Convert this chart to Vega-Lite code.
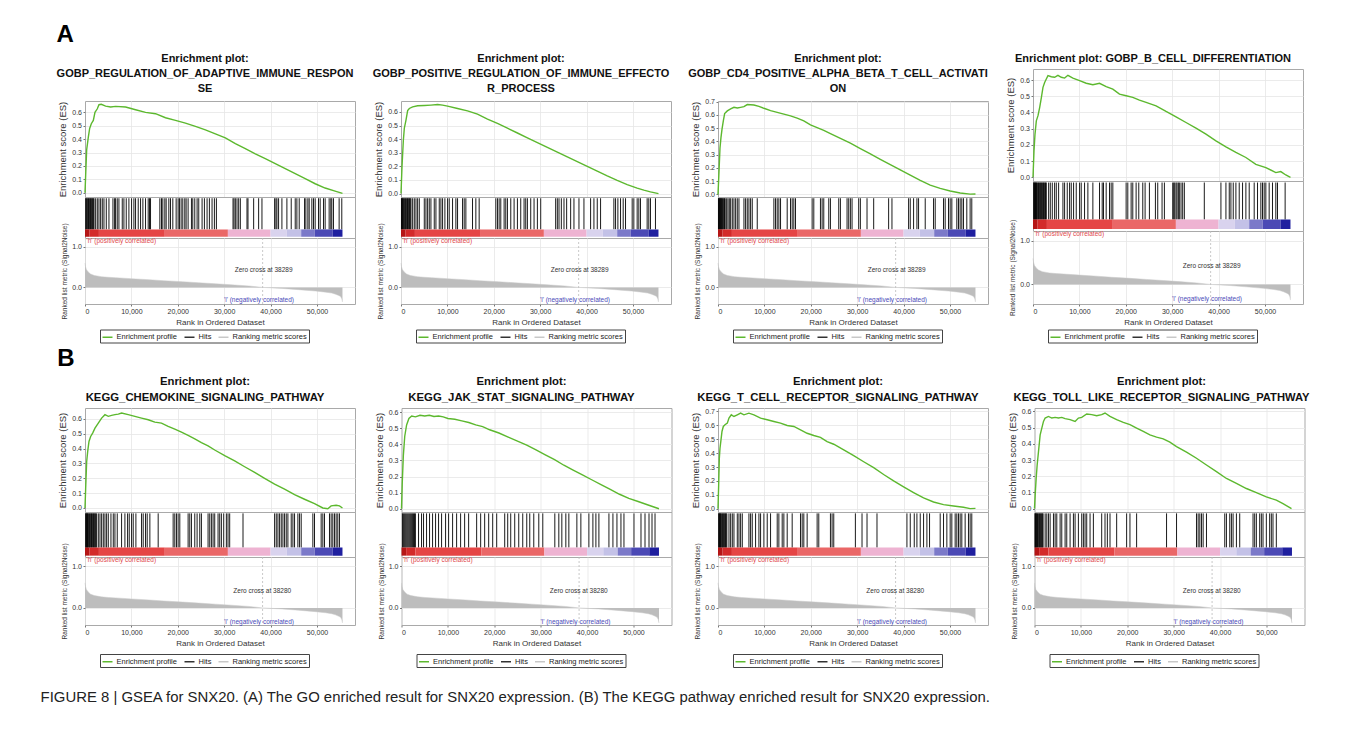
{
"$schema": "https://vega.github.io/schema/vega-lite/v6.json",
"background": "#ffffff",
"padding": {"left": 40, "top": 23, "right": 10, "bottom": 10},
"title": {"text": "FIGURE 8 | GSEA for SNX20. (A) The GO enriched result for SNX20 expression. (B) The KEGG pathway enriched result for SNX20 expression.", "orient": "bottom", "anchor": "start", "fontSize": 14.9, "fontWeight": "normal", "font": "Liberation Sans", "color": "#222222", "offset": 22, "dx": -16},
"config": {
  "font": "Liberation Sans",
  "view": {"stroke": "#a9a9a9", "strokeWidth": 1},
  "axis": {"labelFont": "Liberation Sans", "labelFontSize": 7, "labelColor": "#333333", "titleFont": "Liberation Sans", "titleFontWeight": "normal", "titleColor": "#333333", "domain": false, "ticks": true, "tickSize": 2, "tickColor": "#777777", "labelPadding": 1.5, "titlePadding": 4, "gridColor": "#e6e6e6", "gridWidth": 0.8},
  "legend": {"labelFont": "Liberation Sans"},
  "title": {"font": "Liberation Sans"}
},
"datasets": {
"cbar": [{"b":1,"s":0,"e":1000},{"b":2,"s":1000,"e":3000},{"b":3,"s":3000,"e":17200},{"b":4,"s":17200,"e":30800},{"b":5,"s":30800,"e":40000},{"b":6,"s":40000,"e":43500},{"b":7,"s":43500,"e":46600},{"b":8,"s":46600,"e":49500},{"b":9,"s":49500,"e":53400},{"b":10,"s":53400,"e":55500}],
"metric": [{"r":0,"m":0.6},{"r":100,"m":0.52},{"r":300,"m":0.44},{"r":700,"m":0.38},{"r":1200,"m":0.33},{"r":2000,"m":0.295},{"r":3500,"m":0.265},{"r":5000,"m":0.25},{"r":6600,"m":0.24},{"r":10000,"m":0.215},{"r":13800,"m":0.19},{"r":17000,"m":0.165},{"r":21000,"m":0.14},{"r":24500,"m":0.115},{"r":28100,"m":0.09},{"r":31500,"m":0.065},{"r":35300,"m":0.035},{"r":38289,"m":0},{"r":42500,"m":-0.025},{"r":46000,"m":-0.055},{"r":49700,"m":-0.09},{"r":51900,"m":-0.117},{"r":53200,"m":-0.14},{"r":54000,"m":-0.167},{"r":54700,"m":-0.2},{"r":55100,"m":-0.225},{"r":55350,"m":-0.28},{"r":55500,"m":-0.36}],
"es": [
{"p":1,"r":0,"v":0},{"p":1,"r":143,"v":0.13},{"p":1,"r":359,"v":0.32},{"p":1,"r":717,"v":0.415},{"p":1,"r":1004,"v":0.48},{"p":1,"r":1362,"v":0.515},{"p":1,"r":1793,"v":0.54},{"p":1,"r":2151,"v":0.6},{"p":1,"r":2653,"v":0.627},{"p":1,"r":3011,"v":0.657},{"p":1,"r":3513,"v":0.66},{"p":1,"r":4445,"v":0.647},{"p":1,"r":5521,"v":0.64},{"p":1,"r":6596,"v":0.645},{"p":1,"r":8747,"v":0.64},{"p":1,"r":10898,"v":0.62},{"p":1,"r":13049,"v":0.6},{"p":1,"r":15200,"v":0.59},{"p":1,"r":17351,"v":0.56},{"p":1,"r":19502,"v":0.54},{"p":1,"r":21653,"v":0.52},{"p":1,"r":23804,"v":0.495},{"p":1,"r":25955,"v":0.47},{"p":1,"r":28106,"v":0.44},{"p":1,"r":30257,"v":0.41},{"p":1,"r":32408,"v":0.366},{"p":1,"r":34559,"v":0.33},{"p":1,"r":36710,"v":0.29},{"p":1,"r":38861,"v":0.254},{"p":1,"r":41012,"v":0.217},{"p":1,"r":43163,"v":0.18},{"p":1,"r":45314,"v":0.142},{"p":1,"r":47465,"v":0.105},{"p":1,"r":49616,"v":0.067},{"p":1,"r":51767,"v":0.035},{"p":1,"r":53918,"v":0.012},{"p":1,"r":55500,"v":-0.005},
{"p":2,"r":0,"v":0},{"p":2,"r":215,"v":0.196},{"p":2,"r":502,"v":0.39},{"p":2,"r":717,"v":0.48},{"p":2,"r":1076,"v":0.54},{"p":2,"r":1434,"v":0.61},{"p":2,"r":1793,"v":0.625},{"p":2,"r":2510,"v":0.637},{"p":2,"r":3585,"v":0.645},{"p":2,"r":5019,"v":0.647},{"p":2,"r":6453,"v":0.65},{"p":2,"r":7887,"v":0.654},{"p":2,"r":8963,"v":0.65},{"p":2,"r":10038,"v":0.642},{"p":2,"r":12189,"v":0.625},{"p":2,"r":14340,"v":0.608},{"p":2,"r":16491,"v":0.583},{"p":2,"r":18642,"v":0.547},{"p":2,"r":20793,"v":0.515},{"p":2,"r":22944,"v":0.48},{"p":2,"r":25095,"v":0.445},{"p":2,"r":27246,"v":0.41},{"p":2,"r":29397,"v":0.375},{"p":2,"r":31548,"v":0.34},{"p":2,"r":33699,"v":0.305},{"p":2,"r":35850,"v":0.27},{"p":2,"r":38001,"v":0.235},{"p":2,"r":40152,"v":0.2},{"p":2,"r":42303,"v":0.165},{"p":2,"r":44454,"v":0.13},{"p":2,"r":46605,"v":0.097},{"p":2,"r":48756,"v":0.066},{"p":2,"r":50907,"v":0.04},{"p":2,"r":52341,"v":0.025},{"p":2,"r":53775,"v":0.013},{"p":2,"r":55500,"v":0},
{"p":3,"r":0,"v":0},{"p":3,"r":215,"v":0.17},{"p":3,"r":430,"v":0.35},{"p":3,"r":645,"v":0.43},{"p":3,"r":860,"v":0.49},{"p":3,"r":1147,"v":0.555},{"p":3,"r":1434,"v":0.61},{"p":3,"r":2008,"v":0.63},{"p":3,"r":2725,"v":0.645},{"p":3,"r":3442,"v":0.657},{"p":3,"r":4159,"v":0.652},{"p":3,"r":4876,"v":0.657},{"p":3,"r":5593,"v":0.662},{"p":3,"r":6310,"v":0.678},{"p":3,"r":7744,"v":0.675},{"p":3,"r":8819,"v":0.665},{"p":3,"r":9895,"v":0.65},{"p":3,"r":11329,"v":0.632},{"p":3,"r":12763,"v":0.619},{"p":3,"r":14197,"v":0.606},{"p":3,"r":15631,"v":0.593},{"p":3,"r":17065,"v":0.575},{"p":3,"r":18499,"v":0.555},{"p":3,"r":19933,"v":0.524},{"p":3,"r":21367,"v":0.504},{"p":3,"r":22801,"v":0.483},{"p":3,"r":24235,"v":0.458},{"p":3,"r":26386,"v":0.422},{"p":3,"r":28537,"v":0.386},{"p":3,"r":30688,"v":0.345},{"p":3,"r":32839,"v":0.305},{"p":3,"r":34990,"v":0.265},{"p":3,"r":37141,"v":0.225},{"p":3,"r":39292,"v":0.185},{"p":3,"r":41443,"v":0.145},{"p":3,"r":43594,"v":0.105},{"p":3,"r":45745,"v":0.07},{"p":3,"r":47896,"v":0.045},{"p":3,"r":50047,"v":0.025},{"p":3,"r":52198,"v":0.01},{"p":3,"r":54349,"v":0.002},{"p":3,"r":55500,"v":0.003},
{"p":4,"r":0,"v":0},{"p":4,"r":215,"v":0.163},{"p":4,"r":430,"v":0.266},{"p":4,"r":717,"v":0.348},{"p":4,"r":1076,"v":0.38},{"p":4,"r":1434,"v":0.43},{"p":4,"r":1793,"v":0.49},{"p":4,"r":2151,"v":0.555},{"p":4,"r":2510,"v":0.585},{"p":4,"r":2868,"v":0.606},{"p":4,"r":3227,"v":0.627},{"p":4,"r":3944,"v":0.62},{"p":4,"r":4661,"v":0.617},{"p":4,"r":5378,"v":0.629},{"p":4,"r":6095,"v":0.617},{"p":4,"r":6812,"v":0.612},{"p":4,"r":7529,"v":0.629},{"p":4,"r":8604,"v":0.612},{"p":4,"r":10038,"v":0.596},{"p":4,"r":11472,"v":0.58},{"p":4,"r":12906,"v":0.571},{"p":4,"r":14340,"v":0.58},{"p":4,"r":15774,"v":0.559},{"p":4,"r":17208,"v":0.544},{"p":4,"r":18642,"v":0.513},{"p":4,"r":20076,"v":0.503},{"p":4,"r":21510,"v":0.493},{"p":4,"r":22944,"v":0.476},{"p":4,"r":24378,"v":0.462},{"p":4,"r":26529,"v":0.441},{"p":4,"r":28680,"v":0.406},{"p":4,"r":30831,"v":0.373},{"p":4,"r":32982,"v":0.338},{"p":4,"r":35133,"v":0.303},{"p":4,"r":37284,"v":0.266},{"p":4,"r":39435,"v":0.225},{"p":4,"r":41586,"v":0.188},{"p":4,"r":43737,"v":0.153},{"p":4,"r":45888,"v":0.122},{"p":4,"r":48039,"v":0.08},{"p":4,"r":50190,"v":0.06},{"p":4,"r":52341,"v":0.029},{"p":4,"r":53416,"v":0.035},{"p":4,"r":54492,"v":0.014},{"p":4,"r":55500,"v":0},
{"p":5,"r":0,"v":0},{"p":5,"r":143,"v":0.131},{"p":5,"r":359,"v":0.312},{"p":5,"r":574,"v":0.38},{"p":5,"r":860,"v":0.448},{"p":5,"r":1219,"v":0.482},{"p":5,"r":1649,"v":0.505},{"p":5,"r":2151,"v":0.538},{"p":5,"r":2868,"v":0.572},{"p":5,"r":3585,"v":0.606},{"p":5,"r":4302,"v":0.629},{"p":5,"r":5019,"v":0.618},{"p":5,"r":5736,"v":0.624},{"p":5,"r":6453,"v":0.629},{"p":5,"r":7170,"v":0.633},{"p":5,"r":7887,"v":0.64},{"p":5,"r":9321,"v":0.629},{"p":5,"r":10755,"v":0.618},{"p":5,"r":12189,"v":0.606},{"p":5,"r":13623,"v":0.595},{"p":5,"r":15057,"v":0.579},{"p":5,"r":16491,"v":0.572},{"p":5,"r":17925,"v":0.55},{"p":5,"r":19359,"v":0.532},{"p":5,"r":20793,"v":0.511},{"p":5,"r":22227,"v":0.489},{"p":5,"r":23661,"v":0.466},{"p":5,"r":25095,"v":0.441},{"p":5,"r":26529,"v":0.419},{"p":5,"r":27963,"v":0.391},{"p":5,"r":30114,"v":0.353},{"p":5,"r":32265,"v":0.317},{"p":5,"r":34416,"v":0.278},{"p":5,"r":36567,"v":0.24},{"p":5,"r":38718,"v":0.2},{"p":5,"r":40869,"v":0.161},{"p":5,"r":43020,"v":0.127},{"p":5,"r":45171,"v":0.09},{"p":5,"r":47322,"v":0.059},{"p":5,"r":49473,"v":0.029},{"p":5,"r":51266,"v":0},{"p":5,"r":52341,"v":-0.005},{"p":5,"r":53058,"v":0.014},{"p":5,"r":54134,"v":0.018},{"p":5,"r":54851,"v":0.014},{"p":5,"r":55500,"v":0},
{"p":6,"r":0,"v":0},{"p":6,"r":150,"v":0.15},{"p":6,"r":400,"v":0.33},{"p":6,"r":700,"v":0.45},{"p":6,"r":1100,"v":0.52},{"p":6,"r":1600,"v":0.56},{"p":6,"r":2200,"v":0.575},{"p":6,"r":3000,"v":0.57},{"p":6,"r":4000,"v":0.58},{"p":6,"r":5000,"v":0.575},{"p":6,"r":6000,"v":0.58},{"p":6,"r":7000,"v":0.572},{"p":6,"r":8000,"v":0.575},{"p":6,"r":9000,"v":0.57},{"p":6,"r":10000,"v":0.56},{"p":6,"r":11500,"v":0.555},{"p":6,"r":13000,"v":0.545},{"p":6,"r":14500,"v":0.535},{"p":6,"r":16000,"v":0.52},{"p":6,"r":17500,"v":0.51},{"p":6,"r":19000,"v":0.49},{"p":6,"r":21000,"v":0.47},{"p":6,"r":23000,"v":0.445},{"p":6,"r":25000,"v":0.42},{"p":6,"r":27000,"v":0.395},{"p":6,"r":29000,"v":0.365},{"p":6,"r":31000,"v":0.335},{"p":6,"r":33000,"v":0.305},{"p":6,"r":35000,"v":0.27},{"p":6,"r":37000,"v":0.24},{"p":6,"r":39000,"v":0.21},{"p":6,"r":41000,"v":0.18},{"p":6,"r":43000,"v":0.15},{"p":6,"r":45000,"v":0.12},{"p":6,"r":47000,"v":0.09},{"p":6,"r":49000,"v":0.065},{"p":6,"r":51000,"v":0.045},{"p":6,"r":53000,"v":0.025},{"p":6,"r":55500,"v":0},
{"p":7,"r":0,"v":0},{"p":7,"r":143,"v":0.169},{"p":7,"r":287,"v":0.362},{"p":7,"r":430,"v":0.435},{"p":7,"r":645,"v":0.495},{"p":7,"r":860,"v":0.556},{"p":7,"r":1147,"v":0.592},{"p":7,"r":1506,"v":0.604},{"p":7,"r":2008,"v":0.616},{"p":7,"r":2366,"v":0.652},{"p":7,"r":2868,"v":0.676},{"p":7,"r":3442,"v":0.664},{"p":7,"r":4159,"v":0.676},{"p":7,"r":4876,"v":0.688},{"p":7,"r":5593,"v":0.676},{"p":7,"r":6668,"v":0.688},{"p":7,"r":7744,"v":0.676},{"p":7,"r":9178,"v":0.652},{"p":7,"r":10612,"v":0.64},{"p":7,"r":12046,"v":0.628},{"p":7,"r":13480,"v":0.616},{"p":7,"r":14914,"v":0.599},{"p":7,"r":16348,"v":0.592},{"p":7,"r":17782,"v":0.568},{"p":7,"r":19216,"v":0.543},{"p":7,"r":20650,"v":0.527},{"p":7,"r":22084,"v":0.514},{"p":7,"r":23518,"v":0.483},{"p":7,"r":24952,"v":0.464},{"p":7,"r":27103,"v":0.423},{"p":7,"r":29254,"v":0.382},{"p":7,"r":31405,"v":0.338},{"p":7,"r":33556,"v":0.295},{"p":7,"r":35707,"v":0.246},{"p":7,"r":37858,"v":0.2},{"p":7,"r":40009,"v":0.157},{"p":7,"r":42160,"v":0.116},{"p":7,"r":44311,"v":0.077},{"p":7,"r":46462,"v":0.048},{"p":7,"r":48613,"v":0.029},{"p":7,"r":50764,"v":0.019},{"p":7,"r":52915,"v":0.01},{"p":7,"r":54349,"v":0},{"p":7,"r":55500,"v":0.002},
{"p":8,"r":0,"v":0},{"p":8,"r":143,"v":0.083},{"p":8,"r":359,"v":0.186},{"p":8,"r":574,"v":0.269},{"p":8,"r":860,"v":0.352},{"p":8,"r":1219,"v":0.455},{"p":8,"r":1577,"v":0.497},{"p":8,"r":1936,"v":0.538},{"p":8,"r":2294,"v":0.559},{"p":8,"r":3011,"v":0.569},{"p":8,"r":3728,"v":0.559},{"p":8,"r":4445,"v":0.563},{"p":8,"r":5162,"v":0.559},{"p":8,"r":5879,"v":0.563},{"p":8,"r":6596,"v":0.555},{"p":8,"r":7672,"v":0.549},{"p":8,"r":8747,"v":0.538},{"p":8,"r":9464,"v":0.559},{"p":8,"r":10181,"v":0.563},{"p":8,"r":11257,"v":0.584},{"p":8,"r":12332,"v":0.58},{"p":8,"r":13408,"v":0.573},{"p":8,"r":14483,"v":0.58},{"p":8,"r":15200,"v":0.59},{"p":8,"r":16276,"v":0.569},{"p":8,"r":17710,"v":0.549},{"p":8,"r":19144,"v":0.532},{"p":8,"r":20578,"v":0.518},{"p":8,"r":22012,"v":0.497},{"p":8,"r":23446,"v":0.476},{"p":8,"r":24880,"v":0.455},{"p":8,"r":26314,"v":0.441},{"p":8,"r":27748,"v":0.43},{"p":8,"r":29182,"v":0.41},{"p":8,"r":30616,"v":0.383},{"p":8,"r":32767,"v":0.348},{"p":8,"r":34918,"v":0.311},{"p":8,"r":37069,"v":0.269},{"p":8,"r":39220,"v":0.228},{"p":8,"r":41371,"v":0.186},{"p":8,"r":43522,"v":0.155},{"p":8,"r":45673,"v":0.124},{"p":8,"r":47824,"v":0.099},{"p":8,"r":49975,"v":0.072},{"p":8,"r":52126,"v":0.052},{"p":8,"r":53560,"v":0.031},{"p":8,"r":55400,"v":0}
],
"hits": [
{"p":1,"r":150},{"p":1,"r":300},{"p":1,"r":450},{"p":1,"r":600},{"p":1,"r":750},{"p":1,"r":900},{"p":1,"r":1050},{"p":1,"r":1200},{"p":1,"r":1350},{"p":1,"r":1500},{"p":1,"r":1650},{"p":1,"r":1800},{"p":1,"r":1950},{"p":1,"r":2294},{"p":1,"r":2653},{"p":1,"r":3011},{"p":1,"r":3370},{"p":1,"r":3728},{"p":1,"r":4087},{"p":1,"r":4589},{"p":1,"r":5162},{"p":1,"r":6023},{"p":1,"r":6381},{"p":1,"r":6596},{"p":1,"r":6955},{"p":1,"r":7313},{"p":1,"r":8030},{"p":1,"r":8389},{"p":1,"r":8891},{"p":1,"r":9464},{"p":1,"r":10038},{"p":1,"r":10540},{"p":1,"r":10898},{"p":1,"r":11472},{"p":1,"r":11974},{"p":1,"r":12476},{"p":1,"r":13049},{"p":1,"r":13623},{"p":1,"r":13910},{"p":1,"r":14125},{"p":1,"r":16133},{"p":1,"r":16491},{"p":1,"r":16778},{"p":1,"r":17208},{"p":1,"r":17495},{"p":1,"r":18068},{"p":1,"r":18427},{"p":1,"r":18929},{"p":1,"r":19646},{"p":1,"r":20076},{"p":1,"r":20363},{"p":1,"r":20721},{"p":1,"r":21080},{"p":1,"r":21510},{"p":1,"r":21797},{"p":1,"r":22227},{"p":1,"r":22944},{"p":1,"r":23231},{"p":1,"r":23661},{"p":1,"r":24163},{"p":1,"r":24521},{"p":1,"r":25238},{"p":1,"r":25740},{"p":1,"r":26314},{"p":1,"r":26816},{"p":1,"r":27389},{"p":1,"r":27891},{"p":1,"r":28322},{"p":1,"r":31907},{"p":1,"r":32122},{"p":1,"r":32408},{"p":1,"r":32767},{"p":1,"r":33125},{"p":1,"r":33484},{"p":1,"r":34918},{"p":1,"r":35133},{"p":1,"r":36352},{"p":1,"r":37427},{"p":1,"r":38144},{"p":1,"r":40869},{"p":1,"r":41156},{"p":1,"r":41371},{"p":1,"r":41730},{"p":1,"r":42447},{"p":1,"r":43522},{"p":1,"r":44454},{"p":1,"r":45314},{"p":1,"r":45672},{"p":1,"r":46174},{"p":1,"r":47322},{"p":1,"r":47609},{"p":1,"r":48039},{"p":1,"r":48326},{"p":1,"r":48900},{"p":1,"r":49258},{"p":1,"r":49616},{"p":1,"r":50333},{"p":1,"r":50691},{"p":1,"r":51408},{"p":1,"r":51767},{"p":1,"r":52627},{"p":1,"r":52986},{"p":1,"r":53201},{"p":1,"r":53560},{"p":1,"r":54779},{"p":1,"r":55352},
{"p":2,"r":100},{"p":2,"r":200},{"p":2,"r":300},{"p":2,"r":400},{"p":2,"r":500},{"p":2,"r":650},{"p":2,"r":800},{"p":2,"r":950},{"p":2,"r":1100},{"p":2,"r":1250},{"p":2,"r":1400},{"p":2,"r":1550},{"p":2,"r":1700},{"p":2,"r":1850},{"p":2,"r":2000},{"p":2,"r":2150},{"p":2,"r":2510},{"p":2,"r":2868},{"p":2,"r":3227},{"p":2,"r":3585},{"p":2,"r":3944},{"p":2,"r":5019},{"p":2,"r":5378},{"p":2,"r":5736},{"p":2,"r":6095},{"p":2,"r":6453},{"p":2,"r":7170},{"p":2,"r":7529},{"p":2,"r":8246},{"p":2,"r":8604},{"p":2,"r":8963},{"p":2,"r":9464},{"p":2,"r":10038},{"p":2,"r":10397},{"p":2,"r":11114},{"p":2,"r":11831},{"p":2,"r":12189},{"p":2,"r":13265},{"p":2,"r":13623},{"p":2,"r":13982},{"p":2,"r":15416},{"p":2,"r":16133},{"p":2,"r":16850},{"p":2,"r":20435},{"p":2,"r":20793},{"p":2,"r":21152},{"p":2,"r":21510},{"p":2,"r":22227},{"p":2,"r":22586},{"p":2,"r":22944},{"p":2,"r":23661},{"p":2,"r":24378},{"p":2,"r":25095},{"p":2,"r":25812},{"p":2,"r":26529},{"p":2,"r":26888},{"p":2,"r":27246},{"p":2,"r":27963},{"p":2,"r":28680},{"p":2,"r":29397},{"p":2,"r":30114},{"p":2,"r":33340},{"p":2,"r":33699},{"p":2,"r":34058},{"p":2,"r":34560},{"p":2,"r":35133},{"p":2,"r":35707},{"p":2,"r":36567},{"p":2,"r":37284},{"p":2,"r":38360},{"p":2,"r":39435},{"p":2,"r":40869},{"p":2,"r":41586},{"p":2,"r":42303},{"p":2,"r":43020},{"p":2,"r":45888},{"p":2,"r":46247},{"p":2,"r":46749},{"p":2,"r":47322},{"p":2,"r":47896},{"p":2,"r":48398},{"p":2,"r":49832},{"p":2,"r":50190},{"p":2,"r":50907},{"p":2,"r":51266},{"p":2,"r":51624},{"p":2,"r":53058},{"p":2,"r":53417},{"p":2,"r":53775},{"p":2,"r":54851},
{"p":3,"r":100},{"p":3,"r":200},{"p":3,"r":300},{"p":3,"r":400},{"p":3,"r":500},{"p":3,"r":600},{"p":3,"r":700},{"p":3,"r":800},{"p":3,"r":950},{"p":3,"r":1100},{"p":3,"r":1250},{"p":3,"r":1400},{"p":3,"r":1550},{"p":3,"r":1864},{"p":3,"r":2151},{"p":3,"r":2438},{"p":3,"r":2725},{"p":3,"r":3083},{"p":3,"r":3442},{"p":3,"r":3800},{"p":3,"r":4159},{"p":3,"r":4517},{"p":3,"r":5593},{"p":3,"r":5951},{"p":3,"r":6310},{"p":3,"r":6668},{"p":3,"r":7027},{"p":3,"r":7385},{"p":3,"r":8460},{"p":3,"r":12046},{"p":3,"r":12404},{"p":3,"r":12763},{"p":3,"r":13121},{"p":3,"r":13480},{"p":3,"r":14914},{"p":3,"r":15631},{"p":3,"r":15989},{"p":3,"r":16348},{"p":3,"r":16706},{"p":3,"r":20291},{"p":3,"r":20650},{"p":3,"r":22084},{"p":3,"r":22442},{"p":3,"r":22801},{"p":3,"r":23876},{"p":3,"r":24235},{"p":3,"r":26027},{"p":3,"r":26386},{"p":3,"r":27820},{"p":3,"r":28178},{"p":3,"r":28537},{"p":3,"r":28896},{"p":3,"r":30329},{"p":3,"r":30688},{"p":3,"r":32122},{"p":3,"r":33556},{"p":3,"r":36782},{"p":3,"r":37499},{"p":3,"r":41084},{"p":3,"r":41443},{"p":3,"r":42160},{"p":3,"r":42877},{"p":3,"r":43235},{"p":3,"r":44669},{"p":3,"r":46462},{"p":3,"r":46820},{"p":3,"r":48613},{"p":3,"r":48971},{"p":3,"r":49688},{"p":3,"r":50047},{"p":3,"r":50405},{"p":3,"r":51480},{"p":3,"r":51839},{"p":3,"r":52197},{"p":3,"r":52556},{"p":3,"r":52915},{"p":3,"r":53632},{"p":3,"r":54349},{"p":3,"r":54707},
{"p":4,"r":150},{"p":4,"r":250},{"p":4,"r":350},{"p":4,"r":450},{"p":4,"r":550},{"p":4,"r":650},{"p":4,"r":750},{"p":4,"r":900},{"p":4,"r":1050},{"p":4,"r":1200},{"p":4,"r":1350},{"p":4,"r":1500},{"p":4,"r":1650},{"p":4,"r":1800},{"p":4,"r":1950},{"p":4,"r":2100},{"p":4,"r":2250},{"p":4,"r":2400},{"p":4,"r":2550},{"p":4,"r":2700},{"p":4,"r":2868},{"p":4,"r":3370},{"p":4,"r":3728},{"p":4,"r":4159},{"p":4,"r":4661},{"p":4,"r":5019},{"p":4,"r":5521},{"p":4,"r":6453},{"p":4,"r":6812},{"p":4,"r":7385},{"p":4,"r":7887},{"p":4,"r":8246},{"p":4,"r":8747},{"p":4,"r":9321},{"p":4,"r":10038},{"p":4,"r":10397},{"p":4,"r":11114},{"p":4,"r":11831},{"p":4,"r":12906},{"p":4,"r":14340},{"p":4,"r":14914},{"p":4,"r":15200},{"p":4,"r":15774},{"p":4,"r":16491},{"p":4,"r":16850},{"p":4,"r":17208},{"p":4,"r":20076},{"p":4,"r":20435},{"p":4,"r":21152},{"p":4,"r":21510},{"p":4,"r":22227},{"p":4,"r":22801},{"p":4,"r":23661},{"p":4,"r":24163},{"p":4,"r":25095},{"p":4,"r":26386},{"p":4,"r":26888},{"p":4,"r":27820},{"p":4,"r":28322},{"p":4,"r":30114},{"p":4,"r":30329},{"p":4,"r":30545},{"p":4,"r":30831},{"p":4,"r":31046},{"p":4,"r":31333},{"p":4,"r":31548},{"p":4,"r":31907},{"p":4,"r":32265},{"p":4,"r":32624},{"p":4,"r":36926},{"p":4,"r":40510},{"p":4,"r":41586},{"p":4,"r":42303},{"p":4,"r":42662},{"p":4,"r":43164},{"p":4,"r":43737},{"p":4,"r":44454},{"p":4,"r":45171},{"p":4,"r":45888},{"p":4,"r":46605},{"p":4,"r":47680},{"p":4,"r":48397},{"p":4,"r":49114},{"p":4,"r":49473},{"p":4,"r":49832},{"p":4,"r":50190},{"p":4,"r":50907},{"p":4,"r":51624},{"p":4,"r":52341},{"p":4,"r":52700},{"p":4,"r":54349},
{"p":5,"r":150},{"p":5,"r":250},{"p":5,"r":350},{"p":5,"r":450},{"p":5,"r":550},{"p":5,"r":650},{"p":5,"r":800},{"p":5,"r":950},{"p":5,"r":1100},{"p":5,"r":1250},{"p":5,"r":1400},{"p":5,"r":1550},{"p":5,"r":1700},{"p":5,"r":1850},{"p":5,"r":2000},{"p":5,"r":2150},{"p":5,"r":2300},{"p":5,"r":2500},{"p":5,"r":2868},{"p":5,"r":3227},{"p":5,"r":3585},{"p":5,"r":3944},{"p":5,"r":4302},{"p":5,"r":4661},{"p":5,"r":5019},{"p":5,"r":5593},{"p":5,"r":6095},{"p":5,"r":6453},{"p":5,"r":6955},{"p":5,"r":7887},{"p":5,"r":8604},{"p":5,"r":9178},{"p":5,"r":9536},{"p":5,"r":10038},{"p":5,"r":10397},{"p":5,"r":10970},{"p":5,"r":12189},{"p":5,"r":12548},{"p":5,"r":13049},{"p":5,"r":13408},{"p":5,"r":13982},{"p":5,"r":15774},{"p":5,"r":19000},{"p":5,"r":19359},{"p":5,"r":19718},{"p":5,"r":20076},{"p":5,"r":20435},{"p":5,"r":22227},{"p":5,"r":22586},{"p":5,"r":22944},{"p":5,"r":23661},{"p":5,"r":24163},{"p":5,"r":24737},{"p":5,"r":25095},{"p":5,"r":26529},{"p":5,"r":26888},{"p":5,"r":27246},{"p":5,"r":27605},{"p":5,"r":27963},{"p":5,"r":28680},{"p":5,"r":29039},{"p":5,"r":29397},{"p":5,"r":29899},{"p":5,"r":30473},{"p":5,"r":30831},{"p":5,"r":31190},{"p":5,"r":34058},{"p":5,"r":40869},{"p":5,"r":41228},{"p":5,"r":41586},{"p":5,"r":41945},{"p":5,"r":42303},{"p":5,"r":42662},{"p":5,"r":43020},{"p":5,"r":43379},{"p":5,"r":43737},{"p":5,"r":44454},{"p":5,"r":44813},{"p":5,"r":45171},{"p":5,"r":45888},{"p":5,"r":46247},{"p":5,"r":46605},{"p":5,"r":49114},{"p":5,"r":49473},{"p":5,"r":50907},{"p":5,"r":51266},{"p":5,"r":51624},{"p":5,"r":52700},{"p":5,"r":53058},{"p":5,"r":53417},{"p":5,"r":53775},{"p":5,"r":54134},{"p":5,"r":54492},{"p":5,"r":54851},
{"p":6,"r":200},{"p":6,"r":400},{"p":6,"r":600},{"p":6,"r":800},{"p":6,"r":1000},{"p":6,"r":1200},{"p":6,"r":1400},{"p":6,"r":1600},{"p":6,"r":1800},{"p":6,"r":2000},{"p":6,"r":2200},{"p":6,"r":2400},{"p":6,"r":2600},{"p":6,"r":2800},{"p":6,"r":3000},{"p":6,"r":3672},{"p":6,"r":4320},{"p":6,"r":4752},{"p":6,"r":5400},{"p":6,"r":6048},{"p":6,"r":6696},{"p":6,"r":7344},{"p":6,"r":7992},{"p":6,"r":8640},{"p":6,"r":9504},{"p":6,"r":10152},{"p":6,"r":11016},{"p":6,"r":11880},{"p":6,"r":12744},{"p":6,"r":13608},{"p":6,"r":14472},{"p":6,"r":16200},{"p":6,"r":17064},{"p":6,"r":17928},{"p":6,"r":18792},{"p":6,"r":19656},{"p":6,"r":20520},{"p":6,"r":22248},{"p":6,"r":22896},{"p":6,"r":23544},{"p":6,"r":24408},{"p":6,"r":25272},{"p":6,"r":26136},{"p":6,"r":27000},{"p":6,"r":27648},{"p":6,"r":28512},{"p":6,"r":29592},{"p":6,"r":30456},{"p":6,"r":33048},{"p":6,"r":33912},{"p":6,"r":34560},{"p":6,"r":35424},{"p":6,"r":36072},{"p":6,"r":37800},{"p":6,"r":38664},{"p":6,"r":40392},{"p":6,"r":41256},{"p":6,"r":41904},{"p":6,"r":42552},{"p":6,"r":44712},{"p":6,"r":45576},{"p":6,"r":46440},{"p":6,"r":47304},{"p":6,"r":47952},{"p":6,"r":50112},{"p":6,"r":51624},{"p":6,"r":52488},{"p":6,"r":53352},{"p":6,"r":54000},{"p":6,"r":54648},
{"p":7,"r":150},{"p":7,"r":250},{"p":7,"r":350},{"p":7,"r":450},{"p":7,"r":550},{"p":7,"r":700},{"p":7,"r":850},{"p":7,"r":1000},{"p":7,"r":1150},{"p":7,"r":1300},{"p":7,"r":1450},{"p":7,"r":1600},{"p":7,"r":1750},{"p":7,"r":1900},{"p":7,"r":2366},{"p":7,"r":2725},{"p":7,"r":3083},{"p":7,"r":3442},{"p":7,"r":4159},{"p":7,"r":4517},{"p":7,"r":4876},{"p":7,"r":5234},{"p":7,"r":6668},{"p":7,"r":7027},{"p":7,"r":7385},{"p":7,"r":8102},{"p":7,"r":8819},{"p":7,"r":9178},{"p":7,"r":9895},{"p":7,"r":10612},{"p":7,"r":11329},{"p":7,"r":12763},{"p":7,"r":13121},{"p":7,"r":13838},{"p":7,"r":14197},{"p":7,"r":14914},{"p":7,"r":15989},{"p":7,"r":17782},{"p":7,"r":18141},{"p":7,"r":18499},{"p":7,"r":19216},{"p":7,"r":21367},{"p":7,"r":21725},{"p":7,"r":24235},{"p":7,"r":24593},{"p":7,"r":24952},{"p":7,"r":29612},{"p":7,"r":31046},{"p":7,"r":32122},{"p":7,"r":34273},{"p":7,"r":40726},{"p":7,"r":41443},{"p":7,"r":42303},{"p":7,"r":42877},{"p":7,"r":43594},{"p":7,"r":44311},{"p":7,"r":45028},{"p":7,"r":45602},{"p":7,"r":47896},{"p":7,"r":48613},{"p":7,"r":49330},{"p":7,"r":50047},{"p":7,"r":50405},{"p":7,"r":51122},{"p":7,"r":51480},{"p":7,"r":51839},{"p":7,"r":52197},{"p":7,"r":52556},{"p":7,"r":53273},{"p":7,"r":53990},{"p":7,"r":54349},{"p":7,"r":54707},
{"p":8,"r":100},{"p":8,"r":200},{"p":8,"r":300},{"p":8,"r":400},{"p":8,"r":500},{"p":8,"r":650},{"p":8,"r":800},{"p":8,"r":950},{"p":8,"r":1100},{"p":8,"r":1250},{"p":8,"r":1400},{"p":8,"r":1550},{"p":8,"r":1700},{"p":8,"r":1850},{"p":8,"r":2294},{"p":8,"r":2653},{"p":8,"r":3011},{"p":8,"r":3370},{"p":8,"r":4087},{"p":8,"r":4445},{"p":8,"r":4804},{"p":8,"r":5521},{"p":8,"r":5879},{"p":8,"r":6596},{"p":8,"r":6955},{"p":8,"r":7672},{"p":8,"r":8389},{"p":8,"r":8747},{"p":8,"r":9464},{"p":8,"r":10181},{"p":8,"r":10540},{"p":8,"r":10898},{"p":8,"r":11257},{"p":8,"r":11974},{"p":8,"r":12691},{"p":8,"r":14483},{"p":8,"r":15200},{"p":8,"r":15702},{"p":8,"r":16276},{"p":8,"r":17710},{"p":8,"r":19861},{"p":8,"r":20578},{"p":8,"r":22012},{"p":8,"r":28465},{"p":8,"r":30616},{"p":8,"r":34918},{"p":8,"r":35276},{"p":8,"r":35635},{"p":8,"r":35993},{"p":8,"r":36352},{"p":8,"r":37069},{"p":8,"r":41012},{"p":8,"r":41371},{"p":8,"r":42088},{"p":8,"r":42446},{"p":8,"r":42805},{"p":8,"r":43522},{"p":8,"r":44239},{"p":8,"r":47107},{"p":8,"r":47465},{"p":8,"r":47824},{"p":8,"r":48541},{"p":8,"r":48900},{"p":8,"r":49258},{"p":8,"r":49975},{"p":8,"r":50692},{"p":8,"r":51051},{"p":8,"r":51409},{"p":8,"r":52126}
]
},
"spacing": 3,
"resolve": {"scale": {"color": "independent"}, "legend": {"color": "independent"}},
"vconcat": [
{
"title": {"text": "A", "anchor": "start", "fontSize": 24, "fontWeight": "bold", "font": "Liberation Sans", "color": "#000000", "offset": 4},
"spacing": 16,
"resolve": {"scale": {"color": "independent"}, "legend": {"color": "independent"}},
"hconcat": [
{"spacing": 0, "bounds": "flush", "resolve": {"scale": {"color": "independent"}, "legend": {"color": "independent"}},
 "vconcat": [
  {"width": 270, "height": 50, "view": {"stroke": null}, "data": {"values": [{"t": ["Enrichment plot:", "GOBP_REGULATION_OF_ADAPTIVE_IMMUNE_RESPON", "SE"]}]},
   "mark": {"type": "text", "fontSize": 11, "fontWeight": "bold", "lineHeight": 15, "dx": -15, "dy": -17, "color": "#111111"}, "encoding": {"text": {"field": "t", "type": "nominal"}}},
  {"width": 270, "height": 96, "data": {"name": "es"}, "transform": [{"filter": "datum.p == 1"}],
   "mark": {"type": "line", "color": "#5cb82e", "strokeWidth": 1.4},
   "encoding": {"x": {"field": "r", "type": "quantitative", "scale": {"domain": [0, 58200], "nice": false}, "axis": {"labels": false, "ticks": false, "title": null, "values": [10000, 20000, 30000, 40000, 50000]}},
     "y": {"field": "v", "type": "quantitative", "scale": {"domain": [-0.032, 0.685], "nice": false, "zero": false}, "axis": {"title": "Enrichment score (ES)", "titleFontSize": 9.5, "format": ".1f", "values": [0, 0.1, 0.2, 0.3, 0.4, 0.5, 0.6]}}}},
  {"width": 270, "height": 41, "layer": [
    {"data": {"name": "hits"}, "transform": [{"filter": "datum.p == 1"}], "mark": {"type": "rule", "color": "#000000", "strokeWidth": 0.9},
     "encoding": {"x": {"field": "r", "type": "quantitative", "scale": {"domain": [0, 58200], "nice": false}, "axis": null}, "y": {"datum": 0.21, "type": "quantitative", "scale": {"domain": [0, 1], "nice": false}, "axis": null}, "y2": {"datum": 0.97}}},
    {"data": {"name": "cbar"}, "mark": {"type": "rect", "strokeWidth": 0},
     "encoding": {"x": {"field": "s", "type": "quantitative"}, "x2": {"field": "e"}, "y": {"datum": 0.03, "type": "quantitative"}, "y2": {"datum": 0.21},
       "fill": {"field": "b", "type": "ordinal", "scale": {"domain": [1,2,3,4,5,6,7,8,9,10], "range": ["#b51616","#d32a2a","#e54545","#ea6767","#eeb3d2","#d9d3ee","#c3c1e7","#7b79c9","#4b49b5","#1f1f9f"]}, "legend": null}}}]},
  {"width": 270, "height": 66, "layer": [
    {"data": {"name": "metric"}, "mark": {"type": "area", "color": "#bdbdbd"},
     "encoding": {"x": {"field": "r", "type": "quantitative", "scale": {"domain": [0, 58200], "nice": false}, "axis": {"title": "Rank in Ordered Dataset", "titleFontSize": 8, "format": ",d", "values": [0, 10000, 20000, 30000, 40000, 50000], "titlePadding": 4}},
       "y": {"field": "m", "type": "quantitative", "scale": {"domain": [-0.41, 1.22], "nice": false, "zero": false}, "axis": {"title": "Ranked list metric (Signal2Noise)", "titleFontSize": 6.5, "format": ".1f", "values": [0, 0.5, 1]}}, "y2": {"datum": 0}}},
    {"data": {"name": "metric"}, "mark": {"type": "line", "strokeWidth": 0.5},
     "encoding": {"x": {"field": "r", "type": "quantitative"}, "y": {"field": "m", "type": "quantitative"},
       "color": {"datum": "Ranking metric scores", "scale": {"domain": ["Enrichment profile", "Hits", "Ranking metric scores"], "range": ["#5cb82e", "#333333", "#c8c8c8"]},
         "legend": {"orient": "none", "legendX": 15, "legendY": 91.5, "direction": "horizontal", "columns": 3, "title": null, "symbolType": "stroke", "symbolSize": 100, "symbolStrokeWidth": 1.5, "labelFontSize": 7.5, "labelColor": "#222222", "strokeColor": "#444444", "padding": 1.5, "columnPadding": 4, "labelOffset": 3}}}},
    {"data": {"values": [{}]}, "mark": {"type": "rule", "color": "#bbbbbb", "strokeDash": [2, 2], "strokeWidth": 0.8}, "encoding": {"x": {"datum": 38289}}},
    {"data": {"values": [{}]}, "mark": {"type": "text", "text": "'h' (positively correlated)", "align": "left", "fontSize": 6.5, "color": "#e0474c"}, "encoding": {"x": {"datum": 300}, "y": {"datum": 1.14}}},
    {"data": {"values": [{}]}, "mark": {"type": "text", "text": "Zero cross at 38289", "fontSize": 6.5, "color": "#333333"}, "encoding": {"x": {"datum": 38500}, "y": {"datum": 0.42}}},
    {"data": {"values": [{}]}, "mark": {"type": "text", "text": "'l' (negatively correlated)", "fontSize": 6.5, "color": "#4a4ab8"}, "encoding": {"x": {"datum": 37500}, "y": {"datum": -0.3}}}]}
 ]},
{"spacing": 0, "bounds": "flush", "resolve": {"scale": {"color": "independent"}, "legend": {"color": "independent"}},
 "vconcat": [
  {"width": 270, "height": 50, "view": {"stroke": null}, "data": {"values": [{"t": ["Enrichment plot:", "GOBP_POSITIVE_REGULATION_OF_IMMUNE_EFFECTO", "R_PROCESS"]}]},
   "mark": {"type": "text", "fontSize": 11, "fontWeight": "bold", "lineHeight": 15, "dx": -15, "dy": -17, "color": "#111111"}, "encoding": {"text": {"field": "t", "type": "nominal"}}},
  {"width": 270, "height": 96, "data": {"name": "es"}, "transform": [{"filter": "datum.p == 2"}],
   "mark": {"type": "line", "color": "#5cb82e", "strokeWidth": 1.4},
   "encoding": {"x": {"field": "r", "type": "quantitative", "scale": {"domain": [0, 58200], "nice": false}, "axis": {"labels": false, "ticks": false, "title": null, "values": [10000, 20000, 30000, 40000, 50000]}},
     "y": {"field": "v", "type": "quantitative", "scale": {"domain": [-0.025, 0.68], "nice": false, "zero": false}, "axis": {"title": "Enrichment score (ES)", "titleFontSize": 9.5, "format": ".1f", "values": [0, 0.1, 0.2, 0.3, 0.4, 0.5, 0.6]}}}},
  {"width": 270, "height": 41, "layer": [
    {"data": {"name": "hits"}, "transform": [{"filter": "datum.p == 2"}], "mark": {"type": "rule", "color": "#000000", "strokeWidth": 0.9},
     "encoding": {"x": {"field": "r", "type": "quantitative", "scale": {"domain": [0, 58200], "nice": false}, "axis": null}, "y": {"datum": 0.21, "type": "quantitative", "scale": {"domain": [0, 1], "nice": false}, "axis": null}, "y2": {"datum": 0.97}}},
    {"data": {"name": "cbar"}, "mark": {"type": "rect", "strokeWidth": 0},
     "encoding": {"x": {"field": "s", "type": "quantitative"}, "x2": {"field": "e"}, "y": {"datum": 0.03, "type": "quantitative"}, "y2": {"datum": 0.21},
       "fill": {"field": "b", "type": "ordinal", "scale": {"domain": [1,2,3,4,5,6,7,8,9,10], "range": ["#b51616","#d32a2a","#e54545","#ea6767","#eeb3d2","#d9d3ee","#c3c1e7","#7b79c9","#4b49b5","#1f1f9f"]}, "legend": null}}}]},
  {"width": 270, "height": 66, "layer": [
    {"data": {"name": "metric"}, "mark": {"type": "area", "color": "#bdbdbd"},
     "encoding": {"x": {"field": "r", "type": "quantitative", "scale": {"domain": [0, 58200], "nice": false}, "axis": {"title": "Rank in Ordered Dataset", "titleFontSize": 8, "format": ",d", "values": [0, 10000, 20000, 30000, 40000, 50000], "titlePadding": 4}},
       "y": {"field": "m", "type": "quantitative", "scale": {"domain": [-0.41, 1.22], "nice": false, "zero": false}, "axis": {"title": "Ranked list metric (Signal2Noise)", "titleFontSize": 6.5, "format": ".1f", "values": [0, 0.5, 1]}}, "y2": {"datum": 0}}},
    {"data": {"name": "metric"}, "mark": {"type": "line", "strokeWidth": 0.5},
     "encoding": {"x": {"field": "r", "type": "quantitative"}, "y": {"field": "m", "type": "quantitative"},
       "color": {"datum": "Ranking metric scores", "scale": {"domain": ["Enrichment profile", "Hits", "Ranking metric scores"], "range": ["#5cb82e", "#333333", "#c8c8c8"]},
         "legend": {"orient": "none", "legendX": 15, "legendY": 91.5, "direction": "horizontal", "columns": 3, "title": null, "symbolType": "stroke", "symbolSize": 100, "symbolStrokeWidth": 1.5, "labelFontSize": 7.5, "labelColor": "#222222", "strokeColor": "#444444", "padding": 1.5, "columnPadding": 4, "labelOffset": 3}}}},
    {"data": {"values": [{}]}, "mark": {"type": "rule", "color": "#bbbbbb", "strokeDash": [2, 2], "strokeWidth": 0.8}, "encoding": {"x": {"datum": 38289}}},
    {"data": {"values": [{}]}, "mark": {"type": "text", "text": "'h' (positively correlated)", "align": "left", "fontSize": 6.5, "color": "#e0474c"}, "encoding": {"x": {"datum": 300}, "y": {"datum": 1.14}}},
    {"data": {"values": [{}]}, "mark": {"type": "text", "text": "Zero cross at 38289", "fontSize": 6.5, "color": "#333333"}, "encoding": {"x": {"datum": 38500}, "y": {"datum": 0.42}}},
    {"data": {"values": [{}]}, "mark": {"type": "text", "text": "'l' (negatively correlated)", "fontSize": 6.5, "color": "#4a4ab8"}, "encoding": {"x": {"datum": 37500}, "y": {"datum": -0.3}}}]}
 ]},
{"spacing": 0, "bounds": "flush", "resolve": {"scale": {"color": "independent"}, "legend": {"color": "independent"}},
 "vconcat": [
  {"width": 270, "height": 50, "view": {"stroke": null}, "data": {"values": [{"t": ["Enrichment plot:", "GOBP_CD4_POSITIVE_ALPHA_BETA_T_CELL_ACTIVATI", "ON"]}]},
   "mark": {"type": "text", "fontSize": 11, "fontWeight": "bold", "lineHeight": 15, "dx": -15, "dy": -17, "color": "#111111"}, "encoding": {"text": {"field": "t", "type": "nominal"}}},
  {"width": 270, "height": 96, "data": {"name": "es"}, "transform": [{"filter": "datum.p == 3"}],
   "mark": {"type": "line", "color": "#5cb82e", "strokeWidth": 1.4},
   "encoding": {"x": {"field": "r", "type": "quantitative", "scale": {"domain": [0, 58200], "nice": false}, "axis": {"labels": false, "ticks": false, "title": null, "values": [10000, 20000, 30000, 40000, 50000]}},
     "y": {"field": "v", "type": "quantitative", "scale": {"domain": [-0.02, 0.705], "nice": false, "zero": false}, "axis": {"title": "Enrichment score (ES)", "titleFontSize": 9.5, "format": ".1f", "values": [0, 0.1, 0.2, 0.3, 0.4, 0.5, 0.6, 0.7]}}}},
  {"width": 270, "height": 41, "layer": [
    {"data": {"name": "hits"}, "transform": [{"filter": "datum.p == 3"}], "mark": {"type": "rule", "color": "#000000", "strokeWidth": 0.9},
     "encoding": {"x": {"field": "r", "type": "quantitative", "scale": {"domain": [0, 58200], "nice": false}, "axis": null}, "y": {"datum": 0.21, "type": "quantitative", "scale": {"domain": [0, 1], "nice": false}, "axis": null}, "y2": {"datum": 0.97}}},
    {"data": {"name": "cbar"}, "mark": {"type": "rect", "strokeWidth": 0},
     "encoding": {"x": {"field": "s", "type": "quantitative"}, "x2": {"field": "e"}, "y": {"datum": 0.03, "type": "quantitative"}, "y2": {"datum": 0.21},
       "fill": {"field": "b", "type": "ordinal", "scale": {"domain": [1,2,3,4,5,6,7,8,9,10], "range": ["#b51616","#d32a2a","#e54545","#ea6767","#eeb3d2","#d9d3ee","#c3c1e7","#7b79c9","#4b49b5","#1f1f9f"]}, "legend": null}}}]},
  {"width": 270, "height": 66, "layer": [
    {"data": {"name": "metric"}, "mark": {"type": "area", "color": "#bdbdbd"},
     "encoding": {"x": {"field": "r", "type": "quantitative", "scale": {"domain": [0, 58200], "nice": false}, "axis": {"title": "Rank in Ordered Dataset", "titleFontSize": 8, "format": ",d", "values": [0, 10000, 20000, 30000, 40000, 50000], "titlePadding": 4}},
       "y": {"field": "m", "type": "quantitative", "scale": {"domain": [-0.41, 1.22], "nice": false, "zero": false}, "axis": {"title": "Ranked list metric (Signal2Noise)", "titleFontSize": 6.5, "format": ".1f", "values": [0, 0.5, 1]}}, "y2": {"datum": 0}}},
    {"data": {"name": "metric"}, "mark": {"type": "line", "strokeWidth": 0.5},
     "encoding": {"x": {"field": "r", "type": "quantitative"}, "y": {"field": "m", "type": "quantitative"},
       "color": {"datum": "Ranking metric scores", "scale": {"domain": ["Enrichment profile", "Hits", "Ranking metric scores"], "range": ["#5cb82e", "#333333", "#c8c8c8"]},
         "legend": {"orient": "none", "legendX": 15, "legendY": 91.5, "direction": "horizontal", "columns": 3, "title": null, "symbolType": "stroke", "symbolSize": 100, "symbolStrokeWidth": 1.5, "labelFontSize": 7.5, "labelColor": "#222222", "strokeColor": "#444444", "padding": 1.5, "columnPadding": 4, "labelOffset": 3}}}},
    {"data": {"values": [{}]}, "mark": {"type": "rule", "color": "#bbbbbb", "strokeDash": [2, 2], "strokeWidth": 0.8}, "encoding": {"x": {"datum": 38289}}},
    {"data": {"values": [{}]}, "mark": {"type": "text", "text": "'h' (positively correlated)", "align": "left", "fontSize": 6.5, "color": "#e0474c"}, "encoding": {"x": {"datum": 300}, "y": {"datum": 1.14}}},
    {"data": {"values": [{}]}, "mark": {"type": "text", "text": "Zero cross at 38289", "fontSize": 6.5, "color": "#333333"}, "encoding": {"x": {"datum": 38500}, "y": {"datum": 0.42}}},
    {"data": {"values": [{}]}, "mark": {"type": "text", "text": "'l' (negatively correlated)", "fontSize": 6.5, "color": "#4a4ab8"}, "encoding": {"x": {"datum": 37500}, "y": {"datum": -0.3}}}]}
 ]},
{"spacing": 0, "bounds": "flush", "resolve": {"scale": {"color": "independent"}, "legend": {"color": "independent"}},
 "vconcat": [
  {"width": 270, "height": 18, "view": {"stroke": null}, "data": {"values": [{"t": ["Enrichment plot: GOBP_B_CELL_DIFFERENTIATION"]}]},
   "mark": {"type": "text", "fontSize": 11, "fontWeight": "bold", "lineHeight": 15, "dx": -15, "dy": -1, "color": "#111111"}, "encoding": {"text": {"field": "t", "type": "nominal"}}},
  {"width": 270, "height": 112, "data": {"name": "es"}, "transform": [{"filter": "datum.p == 4"}],
   "mark": {"type": "line", "color": "#5cb82e", "strokeWidth": 1.4},
   "encoding": {"x": {"field": "r", "type": "quantitative", "scale": {"domain": [0, 58200], "nice": false}, "axis": {"labels": false, "ticks": false, "title": null, "values": [10000, 20000, 30000, 40000, 50000]}},
     "y": {"field": "v", "type": "quantitative", "scale": {"domain": [-0.023, 0.668], "nice": false, "zero": false}, "axis": {"title": "Enrichment score (ES)", "titleFontSize": 9.5, "format": ".1f", "values": [0, 0.1, 0.2, 0.3, 0.4, 0.5, 0.6]}}}},
  {"width": 270, "height": 50, "layer": [
    {"data": {"name": "hits"}, "transform": [{"filter": "datum.p == 4"}], "mark": {"type": "rule", "color": "#000000", "strokeWidth": 0.9},
     "encoding": {"x": {"field": "r", "type": "quantitative", "scale": {"domain": [0, 58200], "nice": false}, "axis": null}, "y": {"datum": 0.23, "type": "quantitative", "scale": {"domain": [0, 1], "nice": false}, "axis": null}, "y2": {"datum": 0.97}}},
    {"data": {"name": "cbar"}, "mark": {"type": "rect", "strokeWidth": 0},
     "encoding": {"x": {"field": "s", "type": "quantitative"}, "x2": {"field": "e"}, "y": {"datum": 0.04, "type": "quantitative"}, "y2": {"datum": 0.23},
       "fill": {"field": "b", "type": "ordinal", "scale": {"domain": [1,2,3,4,5,6,7,8,9,10], "range": ["#b51616","#d32a2a","#e54545","#ea6767","#eeb3d2","#d9d3ee","#c3c1e7","#7b79c9","#4b49b5","#1f1f9f"]}, "legend": null}}}]},
  {"width": 270, "height": 73, "layer": [
    {"data": {"name": "metric"}, "mark": {"type": "area", "color": "#bdbdbd"},
     "encoding": {"x": {"field": "r", "type": "quantitative", "scale": {"domain": [0, 58200], "nice": false}, "axis": {"title": "Rank in Ordered Dataset", "titleFontSize": 8, "format": ",d", "values": [0, 10000, 20000, 30000, 40000, 50000], "titlePadding": 4}},
       "y": {"field": "m", "type": "quantitative", "scale": {"domain": [-0.45, 1.23], "nice": false, "zero": false}, "axis": {"title": "Ranked list metric (Signal2Noise)", "titleFontSize": 6.5, "format": ".1f", "values": [0, 0.5, 1]}}, "y2": {"datum": 0}}},
    {"data": {"name": "metric"}, "mark": {"type": "line", "strokeWidth": 0.5},
     "encoding": {"x": {"field": "r", "type": "quantitative"}, "y": {"field": "m", "type": "quantitative"},
       "color": {"datum": "Ranking metric scores", "scale": {"domain": ["Enrichment profile", "Hits", "Ranking metric scores"], "range": ["#5cb82e", "#333333", "#c8c8c8"]},
         "legend": {"orient": "none", "legendX": 15, "legendY": 98.5, "direction": "horizontal", "columns": 3, "title": null, "symbolType": "stroke", "symbolSize": 100, "symbolStrokeWidth": 1.5, "labelFontSize": 7.5, "labelColor": "#222222", "strokeColor": "#444444", "padding": 1.5, "columnPadding": 4, "labelOffset": 3}}}},
    {"data": {"values": [{}]}, "mark": {"type": "rule", "color": "#bbbbbb", "strokeDash": [2, 2], "strokeWidth": 0.8}, "encoding": {"x": {"datum": 38289}}},
    {"data": {"values": [{}]}, "mark": {"type": "text", "text": "'h' (positively correlated)", "align": "left", "fontSize": 6.5, "color": "#e0474c"}, "encoding": {"x": {"datum": 300}, "y": {"datum": 1.15}}},
    {"data": {"values": [{}]}, "mark": {"type": "text", "text": "Zero cross at 38289", "fontSize": 6.5, "color": "#333333"}, "encoding": {"x": {"datum": 38500}, "y": {"datum": 0.42}}},
    {"data": {"values": [{}]}, "mark": {"type": "text", "text": "'l' (negatively correlated)", "fontSize": 6.5, "color": "#4a4ab8"}, "encoding": {"x": {"datum": 37500}, "y": {"datum": -0.33}}}]}
 ]}
]
},
{
"title": {"text": "B", "anchor": "start", "fontSize": 24, "fontWeight": "bold", "font": "Liberation Sans", "color": "#000000", "offset": 2},
"spacing": 17.5,
"resolve": {"scale": {"color": "independent"}, "legend": {"color": "independent"}},
"hconcat": [
{"spacing": 0, "bounds": "flush", "resolve": {"scale": {"color": "independent"}, "legend": {"color": "independent"}},
 "vconcat": [
  {"width": 270, "height": 35, "view": {"stroke": null}, "data": {"values": [{"t": ["Enrichment plot:", "KEGG_CHEMOKINE_SIGNALING_PATHWAY"]}]},
   "mark": {"type": "text", "fontSize": 11.35, "fontWeight": "bold", "lineHeight": 16, "dx": -15, "dy": -9, "color": "#111111"}, "encoding": {"text": {"field": "t", "type": "nominal"}}},
  {"width": 270, "height": 104, "data": {"name": "es"}, "transform": [{"filter": "datum.p == 5"}],
   "mark": {"type": "line", "color": "#5cb82e", "strokeWidth": 1.4},
   "encoding": {"x": {"field": "r", "type": "quantitative", "scale": {"domain": [0, 58200], "nice": false}, "axis": {"labels": false, "ticks": false, "title": null, "values": [10000, 20000, 30000, 40000, 50000]}},
     "y": {"field": "v", "type": "quantitative", "scale": {"domain": [-0.027, 0.674], "nice": false, "zero": false}, "axis": {"title": "Enrichment score (ES)", "titleFontSize": 9.5, "format": ".1f", "values": [0, 0.1, 0.2, 0.3, 0.4, 0.5, 0.6]}}}},
  {"width": 270, "height": 45, "layer": [
    {"data": {"name": "hits"}, "transform": [{"filter": "datum.p == 5"}], "mark": {"type": "rule", "color": "#000000", "strokeWidth": 0.9},
     "encoding": {"x": {"field": "r", "type": "quantitative", "scale": {"domain": [0, 58200], "nice": false}, "axis": null}, "y": {"datum": 0.21, "type": "quantitative", "scale": {"domain": [0, 1], "nice": false}, "axis": null}, "y2": {"datum": 0.97}}},
    {"data": {"name": "cbar"}, "mark": {"type": "rect", "strokeWidth": 0},
     "encoding": {"x": {"field": "s", "type": "quantitative"}, "x2": {"field": "e"}, "y": {"datum": 0.03, "type": "quantitative"}, "y2": {"datum": 0.21},
       "fill": {"field": "b", "type": "ordinal", "scale": {"domain": [1,2,3,4,5,6,7,8,9,10], "range": ["#b51616","#d32a2a","#e54545","#ea6767","#eeb3d2","#d9d3ee","#c3c1e7","#7b79c9","#4b49b5","#1f1f9f"]}, "legend": null}}}]},
  {"width": 270, "height": 68, "layer": [
    {"data": {"name": "metric"}, "mark": {"type": "area", "color": "#bdbdbd"},
     "encoding": {"x": {"field": "r", "type": "quantitative", "scale": {"domain": [0, 58200], "nice": false}, "axis": {"title": "Rank in Ordered Dataset", "titleFontSize": 8, "format": ",d", "values": [0, 10000, 20000, 30000, 40000, 50000], "titlePadding": 4}},
       "y": {"field": "m", "type": "quantitative", "scale": {"domain": [-0.41, 1.22], "nice": false, "zero": false}, "axis": {"title": "Ranked list metric (Signal2Noise)", "titleFontSize": 6.5, "format": ".1f", "values": [0, 0.5, 1]}}, "y2": {"datum": 0}}},
    {"data": {"name": "metric"}, "mark": {"type": "line", "strokeWidth": 0.5},
     "encoding": {"x": {"field": "r", "type": "quantitative"}, "y": {"field": "m", "type": "quantitative"},
       "color": {"datum": "Ranking metric scores", "scale": {"domain": ["Enrichment profile", "Hits", "Ranking metric scores"], "range": ["#5cb82e", "#333333", "#c8c8c8"]},
         "legend": {"orient": "none", "legendX": 15, "legendY": 97, "direction": "horizontal", "columns": 3, "title": null, "symbolType": "stroke", "symbolSize": 100, "symbolStrokeWidth": 1.5, "labelFontSize": 7.5, "labelColor": "#222222", "strokeColor": "#444444", "padding": 1.5, "columnPadding": 4, "labelOffset": 3}}}},
    {"data": {"values": [{}]}, "mark": {"type": "rule", "color": "#bbbbbb", "strokeDash": [2, 2], "strokeWidth": 0.8}, "encoding": {"x": {"datum": 38280}}},
    {"data": {"values": [{}]}, "mark": {"type": "text", "text": "'h' (positively correlated)", "align": "left", "fontSize": 6.5, "color": "#e0474c"}, "encoding": {"x": {"datum": 300}, "y": {"datum": 1.15}}},
    {"data": {"values": [{}]}, "mark": {"type": "text", "text": "Zero cross at 38280", "fontSize": 6.5, "color": "#333333"}, "encoding": {"x": {"datum": 38200}, "y": {"datum": 0.41}}},
    {"data": {"values": [{}]}, "mark": {"type": "text", "text": "'l' (negatively correlated)", "fontSize": 6.5, "color": "#4a4ab8"}, "encoding": {"x": {"datum": 37500}, "y": {"datum": -0.33}}}]}
 ]},
{"spacing": 0, "bounds": "flush", "resolve": {"scale": {"color": "independent"}, "legend": {"color": "independent"}},
 "vconcat": [
  {"width": 270, "height": 35, "view": {"stroke": null}, "data": {"values": [{"t": ["Enrichment plot:", "KEGG_JAK_STAT_SIGNALING_PATHWAY"]}]},
   "mark": {"type": "text", "fontSize": 11.35, "fontWeight": "bold", "lineHeight": 16, "dx": -15, "dy": -9, "color": "#111111"}, "encoding": {"text": {"field": "t", "type": "nominal"}}},
  {"width": 270, "height": 104, "data": {"name": "es"}, "transform": [{"filter": "datum.p == 6"}],
   "mark": {"type": "line", "color": "#5cb82e", "strokeWidth": 1.4},
   "encoding": {"x": {"field": "r", "type": "quantitative", "scale": {"domain": [0, 58200], "nice": false}, "axis": {"labels": false, "ticks": false, "title": null, "values": [10000, 20000, 30000, 40000, 50000]}},
     "y": {"field": "v", "type": "quantitative", "scale": {"domain": [-0.02, 0.625], "nice": false, "zero": false}, "axis": {"title": "Enrichment score (ES)", "titleFontSize": 9.5, "format": ".1f", "values": [0, 0.1, 0.2, 0.3, 0.4, 0.5, 0.6]}}}},
  {"width": 270, "height": 45, "layer": [
    {"data": {"name": "hits"}, "transform": [{"filter": "datum.p == 6"}], "mark": {"type": "rule", "color": "#000000", "strokeWidth": 0.9},
     "encoding": {"x": {"field": "r", "type": "quantitative", "scale": {"domain": [0, 58200], "nice": false}, "axis": null}, "y": {"datum": 0.21, "type": "quantitative", "scale": {"domain": [0, 1], "nice": false}, "axis": null}, "y2": {"datum": 0.97}}},
    {"data": {"name": "cbar"}, "mark": {"type": "rect", "strokeWidth": 0},
     "encoding": {"x": {"field": "s", "type": "quantitative"}, "x2": {"field": "e"}, "y": {"datum": 0.03, "type": "quantitative"}, "y2": {"datum": 0.21},
       "fill": {"field": "b", "type": "ordinal", "scale": {"domain": [1,2,3,4,5,6,7,8,9,10], "range": ["#b51616","#d32a2a","#e54545","#ea6767","#eeb3d2","#d9d3ee","#c3c1e7","#7b79c9","#4b49b5","#1f1f9f"]}, "legend": null}}}]},
  {"width": 270, "height": 68, "layer": [
    {"data": {"name": "metric"}, "mark": {"type": "area", "color": "#bdbdbd"},
     "encoding": {"x": {"field": "r", "type": "quantitative", "scale": {"domain": [0, 58200], "nice": false}, "axis": {"title": "Rank in Ordered Dataset", "titleFontSize": 8, "format": ",d", "values": [0, 10000, 20000, 30000, 40000, 50000], "titlePadding": 4}},
       "y": {"field": "m", "type": "quantitative", "scale": {"domain": [-0.41, 1.22], "nice": false, "zero": false}, "axis": {"title": "Ranked list metric (Signal2Noise)", "titleFontSize": 6.5, "format": ".1f", "values": [0, 0.5, 1]}}, "y2": {"datum": 0}}},
    {"data": {"name": "metric"}, "mark": {"type": "line", "strokeWidth": 0.5},
     "encoding": {"x": {"field": "r", "type": "quantitative"}, "y": {"field": "m", "type": "quantitative"},
       "color": {"datum": "Ranking metric scores", "scale": {"domain": ["Enrichment profile", "Hits", "Ranking metric scores"], "range": ["#5cb82e", "#333333", "#c8c8c8"]},
         "legend": {"orient": "none", "legendX": 15, "legendY": 97, "direction": "horizontal", "columns": 3, "title": null, "symbolType": "stroke", "symbolSize": 100, "symbolStrokeWidth": 1.5, "labelFontSize": 7.5, "labelColor": "#222222", "strokeColor": "#444444", "padding": 1.5, "columnPadding": 4, "labelOffset": 3}}}},
    {"data": {"values": [{}]}, "mark": {"type": "rule", "color": "#bbbbbb", "strokeDash": [2, 2], "strokeWidth": 0.8}, "encoding": {"x": {"datum": 38280}}},
    {"data": {"values": [{}]}, "mark": {"type": "text", "text": "'h' (positively correlated)", "align": "left", "fontSize": 6.5, "color": "#e0474c"}, "encoding": {"x": {"datum": 300}, "y": {"datum": 1.15}}},
    {"data": {"values": [{}]}, "mark": {"type": "text", "text": "Zero cross at 38280", "fontSize": 6.5, "color": "#333333"}, "encoding": {"x": {"datum": 38200}, "y": {"datum": 0.41}}},
    {"data": {"values": [{}]}, "mark": {"type": "text", "text": "'l' (negatively correlated)", "fontSize": 6.5, "color": "#4a4ab8"}, "encoding": {"x": {"datum": 37500}, "y": {"datum": -0.33}}}]}
 ]},
{"spacing": 0, "bounds": "flush", "resolve": {"scale": {"color": "independent"}, "legend": {"color": "independent"}},
 "vconcat": [
  {"width": 270, "height": 35, "view": {"stroke": null}, "data": {"values": [{"t": ["Enrichment plot:", "KEGG_T_CELL_RECEPTOR_SIGNALING_PATHWAY"]}]},
   "mark": {"type": "text", "fontSize": 11.35, "fontWeight": "bold", "lineHeight": 16, "dx": -15, "dy": -9, "color": "#111111"}, "encoding": {"text": {"field": "t", "type": "nominal"}}},
  {"width": 270, "height": 104, "data": {"name": "es"}, "transform": [{"filter": "datum.p == 7"}],
   "mark": {"type": "line", "color": "#5cb82e", "strokeWidth": 1.4},
   "encoding": {"x": {"field": "r", "type": "quantitative", "scale": {"domain": [0, 58200], "nice": false}, "axis": {"labels": false, "ticks": false, "title": null, "values": [10000, 20000, 30000, 40000, 50000]}},
     "y": {"field": "v", "type": "quantitative", "scale": {"domain": [-0.024, 0.725], "nice": false, "zero": false}, "axis": {"title": "Enrichment score (ES)", "titleFontSize": 9.5, "format": ".1f", "values": [0, 0.1, 0.2, 0.3, 0.4, 0.5, 0.6, 0.7]}}}},
  {"width": 270, "height": 45, "layer": [
    {"data": {"name": "hits"}, "transform": [{"filter": "datum.p == 7"}], "mark": {"type": "rule", "color": "#000000", "strokeWidth": 0.9},
     "encoding": {"x": {"field": "r", "type": "quantitative", "scale": {"domain": [0, 58200], "nice": false}, "axis": null}, "y": {"datum": 0.21, "type": "quantitative", "scale": {"domain": [0, 1], "nice": false}, "axis": null}, "y2": {"datum": 0.97}}},
    {"data": {"name": "cbar"}, "mark": {"type": "rect", "strokeWidth": 0},
     "encoding": {"x": {"field": "s", "type": "quantitative"}, "x2": {"field": "e"}, "y": {"datum": 0.03, "type": "quantitative"}, "y2": {"datum": 0.21},
       "fill": {"field": "b", "type": "ordinal", "scale": {"domain": [1,2,3,4,5,6,7,8,9,10], "range": ["#b51616","#d32a2a","#e54545","#ea6767","#eeb3d2","#d9d3ee","#c3c1e7","#7b79c9","#4b49b5","#1f1f9f"]}, "legend": null}}}]},
  {"width": 270, "height": 68, "layer": [
    {"data": {"name": "metric"}, "mark": {"type": "area", "color": "#bdbdbd"},
     "encoding": {"x": {"field": "r", "type": "quantitative", "scale": {"domain": [0, 58200], "nice": false}, "axis": {"title": "Rank in Ordered Dataset", "titleFontSize": 8, "format": ",d", "values": [0, 10000, 20000, 30000, 40000, 50000], "titlePadding": 4}},
       "y": {"field": "m", "type": "quantitative", "scale": {"domain": [-0.41, 1.22], "nice": false, "zero": false}, "axis": {"title": "Ranked list metric (Signal2Noise)", "titleFontSize": 6.5, "format": ".1f", "values": [0, 0.5, 1]}}, "y2": {"datum": 0}}},
    {"data": {"name": "metric"}, "mark": {"type": "line", "strokeWidth": 0.5},
     "encoding": {"x": {"field": "r", "type": "quantitative"}, "y": {"field": "m", "type": "quantitative"},
       "color": {"datum": "Ranking metric scores", "scale": {"domain": ["Enrichment profile", "Hits", "Ranking metric scores"], "range": ["#5cb82e", "#333333", "#c8c8c8"]},
         "legend": {"orient": "none", "legendX": 15, "legendY": 97, "direction": "horizontal", "columns": 3, "title": null, "symbolType": "stroke", "symbolSize": 100, "symbolStrokeWidth": 1.5, "labelFontSize": 7.5, "labelColor": "#222222", "strokeColor": "#444444", "padding": 1.5, "columnPadding": 4, "labelOffset": 3}}}},
    {"data": {"values": [{}]}, "mark": {"type": "rule", "color": "#bbbbbb", "strokeDash": [2, 2], "strokeWidth": 0.8}, "encoding": {"x": {"datum": 38280}}},
    {"data": {"values": [{}]}, "mark": {"type": "text", "text": "'h' (positively correlated)", "align": "left", "fontSize": 6.5, "color": "#e0474c"}, "encoding": {"x": {"datum": 300}, "y": {"datum": 1.15}}},
    {"data": {"values": [{}]}, "mark": {"type": "text", "text": "Zero cross at 38280", "fontSize": 6.5, "color": "#333333"}, "encoding": {"x": {"datum": 38200}, "y": {"datum": 0.41}}},
    {"data": {"values": [{}]}, "mark": {"type": "text", "text": "'l' (negatively correlated)", "fontSize": 6.5, "color": "#4a4ab8"}, "encoding": {"x": {"datum": 37500}, "y": {"datum": -0.33}}}]}
 ]},
{"spacing": 0, "bounds": "flush", "resolve": {"scale": {"color": "independent"}, "legend": {"color": "independent"}},
 "vconcat": [
  {"width": 270, "height": 35, "view": {"stroke": null}, "data": {"values": [{"t": ["Enrichment plot:", "KEGG_TOLL_LIKE_RECEPTOR_SIGNALING_PATHWAY"]}]},
   "mark": {"type": "text", "fontSize": 11.2, "fontWeight": "bold", "lineHeight": 16, "dx": -8, "dy": -9, "color": "#111111"}, "encoding": {"text": {"field": "t", "type": "nominal"}}},
  {"width": 270, "height": 104, "data": {"name": "es"}, "transform": [{"filter": "datum.p == 8"}],
   "mark": {"type": "line", "color": "#5cb82e", "strokeWidth": 1.4},
   "encoding": {"x": {"field": "r", "type": "quantitative", "scale": {"domain": [0, 58200], "nice": false}, "axis": {"labels": false, "ticks": false, "title": null, "values": [10000, 20000, 30000, 40000, 50000]}},
     "y": {"field": "v", "type": "quantitative", "scale": {"domain": [-0.021, 0.621], "nice": false, "zero": false}, "axis": {"title": "Enrichment score (ES)", "titleFontSize": 9.5, "format": ".1f", "values": [0, 0.1, 0.2, 0.3, 0.4, 0.5, 0.6]}}}},
  {"width": 270, "height": 45, "layer": [
    {"data": {"name": "hits"}, "transform": [{"filter": "datum.p == 8"}], "mark": {"type": "rule", "color": "#000000", "strokeWidth": 0.9},
     "encoding": {"x": {"field": "r", "type": "quantitative", "scale": {"domain": [0, 58200], "nice": false}, "axis": null}, "y": {"datum": 0.21, "type": "quantitative", "scale": {"domain": [0, 1], "nice": false}, "axis": null}, "y2": {"datum": 0.97}}},
    {"data": {"name": "cbar"}, "mark": {"type": "rect", "strokeWidth": 0},
     "encoding": {"x": {"field": "s", "type": "quantitative"}, "x2": {"field": "e"}, "y": {"datum": 0.03, "type": "quantitative"}, "y2": {"datum": 0.21},
       "fill": {"field": "b", "type": "ordinal", "scale": {"domain": [1,2,3,4,5,6,7,8,9,10], "range": ["#b51616","#d32a2a","#e54545","#ea6767","#eeb3d2","#d9d3ee","#c3c1e7","#7b79c9","#4b49b5","#1f1f9f"]}, "legend": null}}}]},
  {"width": 270, "height": 68, "layer": [
    {"data": {"name": "metric"}, "mark": {"type": "area", "color": "#bdbdbd"},
     "encoding": {"x": {"field": "r", "type": "quantitative", "scale": {"domain": [0, 58200], "nice": false}, "axis": {"title": "Rank in Ordered Dataset", "titleFontSize": 8, "format": ",d", "values": [0, 10000, 20000, 30000, 40000, 50000], "titlePadding": 4}},
       "y": {"field": "m", "type": "quantitative", "scale": {"domain": [-0.41, 1.22], "nice": false, "zero": false}, "axis": {"title": "Ranked list metric (Signal2Noise)", "titleFontSize": 6.5, "format": ".1f", "values": [0, 0.5, 1]}}, "y2": {"datum": 0}}},
    {"data": {"name": "metric"}, "mark": {"type": "line", "strokeWidth": 0.5},
     "encoding": {"x": {"field": "r", "type": "quantitative"}, "y": {"field": "m", "type": "quantitative"},
       "color": {"datum": "Ranking metric scores", "scale": {"domain": ["Enrichment profile", "Hits", "Ranking metric scores"], "range": ["#5cb82e", "#333333", "#c8c8c8"]},
         "legend": {"orient": "none", "legendX": 15, "legendY": 97, "direction": "horizontal", "columns": 3, "title": null, "symbolType": "stroke", "symbolSize": 100, "symbolStrokeWidth": 1.5, "labelFontSize": 7.5, "labelColor": "#222222", "strokeColor": "#444444", "padding": 1.5, "columnPadding": 4, "labelOffset": 3}}}},
    {"data": {"values": [{}]}, "mark": {"type": "rule", "color": "#bbbbbb", "strokeDash": [2, 2], "strokeWidth": 0.8}, "encoding": {"x": {"datum": 38280}}},
    {"data": {"values": [{}]}, "mark": {"type": "text", "text": "'h' (positively correlated)", "align": "left", "fontSize": 6.5, "color": "#e0474c"}, "encoding": {"x": {"datum": 300}, "y": {"datum": 1.15}}},
    {"data": {"values": [{}]}, "mark": {"type": "text", "text": "Zero cross at 38280", "fontSize": 6.5, "color": "#333333"}, "encoding": {"x": {"datum": 38200}, "y": {"datum": 0.41}}},
    {"data": {"values": [{}]}, "mark": {"type": "text", "text": "'l' (negatively correlated)", "fontSize": 6.5, "color": "#4a4ab8"}, "encoding": {"x": {"datum": 37500}, "y": {"datum": -0.33}}}]}
 ]}
]
}
]
}
